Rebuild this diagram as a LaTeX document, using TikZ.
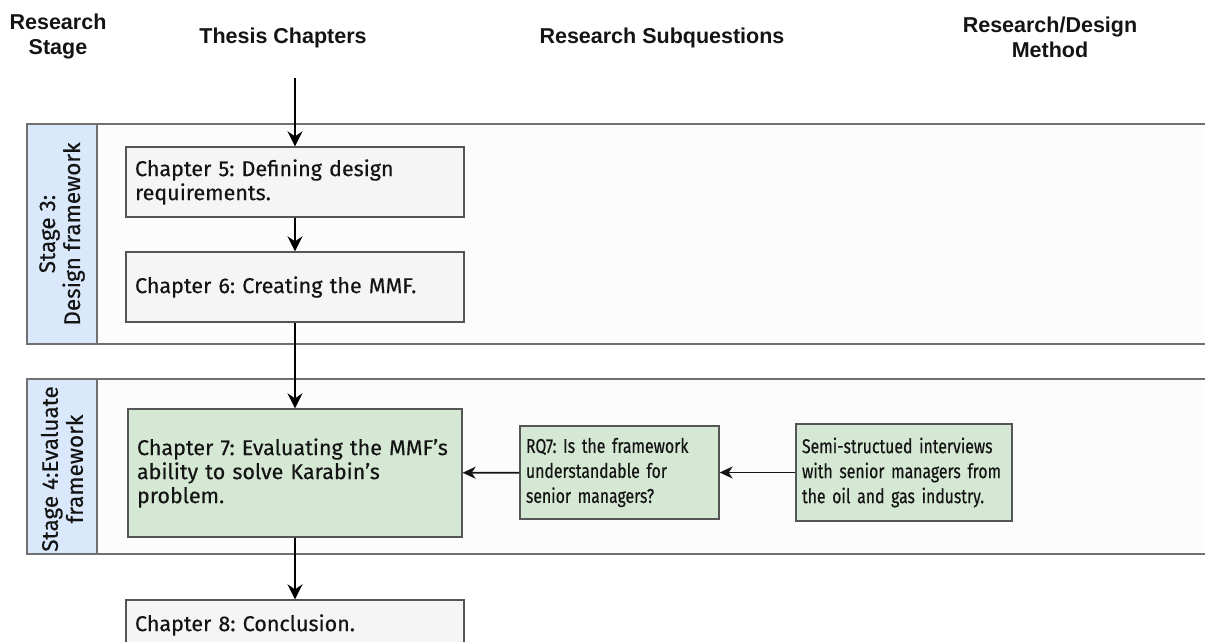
\documentclass[tikz,border=0pt]{standalone}
\usepackage{fontspec}
\setmainfont{Fira Sans}[FakeBold=0.35]
\newfontfamily\headfont{Liberation Sans}
\newfontfamily\narrowfont{Fira Sans}[FakeStretch=0.79, FakeBold=0.35]
\usetikzlibrary{arrows.meta}
\frenchspacing
\definecolor{laneline}{HTML}{707070}
\definecolor{lanefill}{HTML}{FCFCFC}
\definecolor{stagefill}{HTML}{DAE8FC}
\definecolor{greyfill}{HTML}{F5F5F5}
\definecolor{greenfill}{HTML}{D5E8D4}
\definecolor{boxline}{HTML}{555555}
\definecolor{ink}{HTML}{141414}
\tikzset{
  x=1pt, y=-1pt,
  header/.style={font=\headfont\bfseries\fontsize{21.5}{25}\selectfont, align=center, text=ink},
  lane/.style={draw=laneline, line width=1.8pt, fill=lanefill},
  stagecell/.style={draw=laneline, line width=1.8pt, fill=stagefill},
  stagetext/.style={rotate=90, align=center, text=ink, font=\fontsize{22.5}{25}\selectfont},
  chapbox/.style={draw=boxline, line width=1.3pt, fill=greyfill, rectangle, align=left,
    inner xsep=9pt, inner ysep=0pt, text=ink, font=\fontsize{21.5}{24}\selectfont},
  greenbox/.style={chapbox, fill=greenfill},
  methbox/.style={draw=boxline, line width=1.3pt, fill=greenfill, rectangle, align=left,
    inner xsep=6pt, inner ysep=0pt, text=ink, font=\narrowfont\fontsize{20}{25}\selectfont},
  flow/.style={draw=black, line width=2.8pt, -{Stealth[length=15pt,width=15pt,inset=5pt]}},
  hflow/.style={draw=ink, line width=1.8pt, -{Stealth[length=13pt,width=12pt,inset=4pt]}},
}
\begin{document}
\begin{tikzpicture}
\useasboundingbox (0,0) rectangle (1205,641);
\clip (0,0) rectangle (1205,641);

% column headers
\node[header] (hstage) at (58,36) {Research\\Stage};
\node[header] (hchap) at (283,38) {Thesis Chapters};
\node[header] (hrq) at (662,38) {Research Subquestions};
\node[header] (hmeth) at (1050,37) {Research/Design\\Method};

% swimlanes
\draw[lane] (27,124) rectangle (1215,344);
\draw[stagecell] (27,124) rectangle (97,344);
\node[stagetext] (s3) at (62,234) {Stage 3:\\Design framework};

\draw[lane] (27,379) rectangle (1215,554);
\draw[stagecell] (27,379) rectangle (97,554);
\node[stagetext] (s4) at (62,469) {Stage 4:Evaluate\\framework};

% chapters
\node[chapbox, text width=320pt, minimum height=70pt] (ch5) at (295,182)
  {Chapter 5: Defining design\\requirements.};
\node[chapbox, text width=320pt, minimum height=70pt] (ch6) at (295,287)
  {Chapter 6: Creating the MMF.};
\node[greenbox, text width=316pt, minimum height=128pt] (ch7) at (295,473)
  {Chapter 7: Evaluating the MMF's\\ability to solve Karabin's\\problem.};
\node[chapbox, text width=320pt, minimum height=50pt] (ch8) at (295,625)
  {Chapter 8: Conclusion.};

% subquestion and method
\node[methbox, text width=187pt, minimum height=93pt] (rq7) at (619.5,472.5)
  {RQ7: Is the framework\\understandable for\\senior managers?};
\node[methbox, text width=204pt, minimum height=97pt] (semi) at (904,472.5)
  {Semi-structued interviews\\with senior managers from\\the oil and gas industry.};

% connectors
\coordinate (start) at (295,78);
\draw[flow] (start) -- (ch5.north);
\draw[flow] (ch5) -- (ch6);
\draw[flow] (ch6) -- (ch7);
\draw[flow] (ch7) -- (ch8);
\draw[hflow] (semi) -- (rq7);
\draw[hflow] (rq7) -- (ch7);
\end{tikzpicture}
\end{document}
